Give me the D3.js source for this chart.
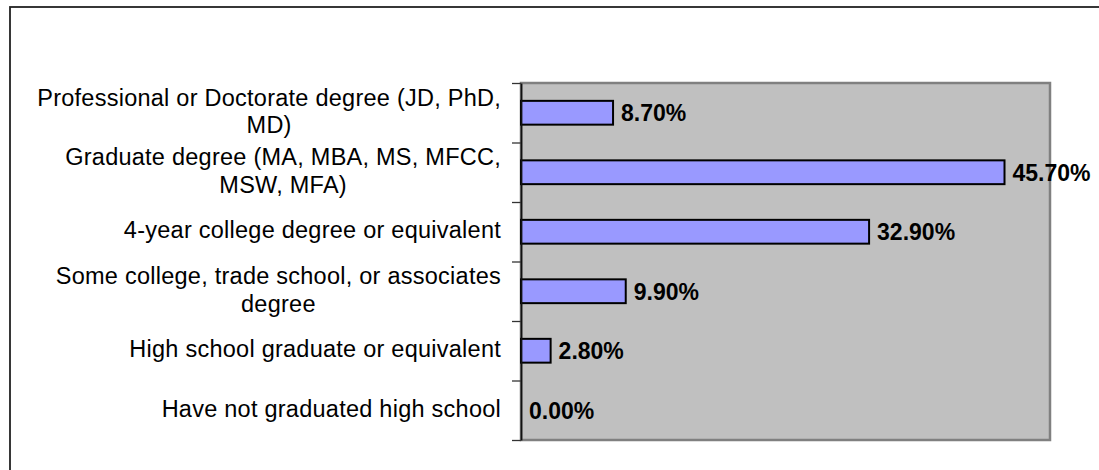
<!DOCTYPE html>
<html>
<head>
<meta charset="utf-8">
<script src="https://cdn.jsdelivr.net/npm/d3@7"></script>
<style>
  body { margin: 0; background: #fff; }
  svg { display: block; }
</style>
</head>
<body>
<script>
var categories = [
  "Professional or Doctorate degree (JD, PhD, MD)",
  "Graduate degree (MA, MBA, MS, MFCC, MSW, MFA)",
  "4-year college degree or equivalent",
  "Some college, trade school, or associates degree",
  "High school graduate or equivalent",
  "Have not graduated high school"
];
var values = [8.7, 45.7, 32.9, 9.9, 2.8, 0.0];
var valueLabels = ["8.70%", "45.70%", "32.90%", "9.90%", "2.80%", "0.00%"];

var W = 1099, H = 470;
var plot = {left: 521, top: 83, right: 1050, bottom: 440};

var svg = d3.select("body").append("svg")
  .attr("width", W)
  .attr("height", H);

// outer chart frame (cut off on right and bottom)
svg.append("rect")
  .attr("x", 10).attr("y", 7)
  .attr("width", 1200).attr("height", 600)
  .attr("fill", "none")
  .attr("stroke", "#222")
  .attr("stroke-width", 1.8);

var x = d3.scaleLinear()
  .domain([0, 50])
  .range([plot.left, plot.right]);

var y = d3.scaleBand()
  .domain(categories)
  .range([plot.top, plot.bottom])
  .paddingInner(0.6)
  .paddingOuter(0.3);

// plot area
svg.append("rect")
  .attr("x", plot.left).attr("y", plot.top)
  .attr("width", plot.right - plot.left)
  .attr("height", plot.bottom - plot.top)
  .attr("fill", "#c0c0c0")
  .attr("stroke", "#808080")
  .attr("stroke-width", 2.5);

// bars (zero-valued bar is not drawn)
svg.selectAll(".bar")
  .data(categories.filter(function(d, i) { return values[i] > 0; }))
  .enter()
  .append("rect")
  .attr("class", "bar")
  .attr("x", x(0))
  .attr("y", function(d) { return y(d); })
  .attr("width", function(d) { return x(values[categories.indexOf(d)]) - x(0); })
  .attr("height", y.bandwidth())
  .attr("fill", "#9999ff")
  .attr("stroke", "#000")
  .attr("stroke-width", 2);

// value labels
svg.selectAll(".val")
  .data(categories)
  .enter()
  .append("text")
  .attr("class", "val")
  .attr("x", function(d, i) { return x(values[i]) + 8; })
  .attr("y", function(d) { return y(d) + y.bandwidth() / 2 + 8.5; })
  .attr("font-family", "'Liberation Sans', Arial, sans-serif")
  .attr("font-size", 23)
  .attr("font-weight", "bold")
  .attr("fill", "#000")
  .text(function(d, i) { return valueLabels[i]; });

// category axis: ticks between categories
var tickPos = d3.scaleLinear()
  .domain([0, categories.length])
  .range([plot.top, plot.bottom]);

var axis = svg.append("g")
  .attr("transform", "translate(" + plot.left + ",0)")
  .call(d3.axisLeft(tickPos)
    .tickValues(d3.range(categories.length + 1))
    .tickSize(9)
    .tickSizeOuter(0)
    .tickFormat(""));
axis.select(".domain").attr("stroke", "#111").attr("stroke-width", 1.8);
axis.selectAll(".tick line").attr("stroke", "#333").attr("stroke-width", 1.3);

// category labels, wrapped and centered, block right-aligned
var labelRight = 501, wrapWidth = 475, lineH = 27.5;
var labels = svg.append("g")
  .attr("font-family", "'Liberation Sans', Arial, sans-serif")
  .attr("font-size", 23.5)
  .attr("letter-spacing", 0.25)
  .attr("fill", "#000");

categories.forEach(function(c) {
  var words = c.split(" ");
  var lines = [];
  var cur = "";
  var probe = labels.append("text");
  words.forEach(function(w) {
    var t = cur ? cur + " " + w : w;
    probe.text(t);
    if (cur && probe.node().getComputedTextLength() > wrapWidth) {
      lines.push(cur);
      cur = w;
    } else {
      cur = t;
    }
  });
  lines.push(cur);
  var widths = lines.map(function(l) {
    probe.text(l);
    return probe.node().getComputedTextLength();
  });
  probe.remove();
  var cx = labelRight - d3.max(widths) / 2;
  var cy = y(c) + y.bandwidth() / 2;
  lines.forEach(function(l, k) {
    labels.append("text")
      .attr("x", cx)
      .attr("y", cy + (k - (lines.length - 1) / 2) * lineH + 6.5)
      .attr("text-anchor", "middle")
      .text(l);
  });
});
</script>
</body>
</html>
